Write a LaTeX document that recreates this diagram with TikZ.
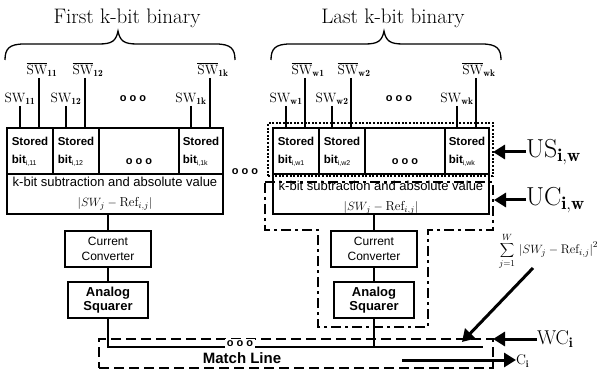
\documentclass[tikz,border=0pt]{standalone}
\usepackage{fontspec}
\setsansfont{Liberation Sans}
\usetikzlibrary{arrows.meta}

\newsavebox\swbox
\newcommand\swbar{\sbox\swbox{SW}\makebox[0pt][l]{\rule[10.6pt]{\wd\swbox}{1.1pt}}\usebox\swbox}

\tikzset{
 every node/.style={inner sep=0pt, outer sep=0pt},
 wire/.style={line width=1.3pt},
 boxln/.style={draw, line width=1.3pt, rectangle},
 cell/.style={boxln, anchor=north west, minimum height=46pt},
 celltxt/.style={font=\sffamily\fontsize{11.5}{18}\selectfont, align=left},
 subtxt/.style={font=\sffamily\fontsize{13}{14}\selectfont},
 fmtxt/.style={font=\fontsize{13}{14}\selectfont},
 ccbox/.style={boxln, minimum width=86pt, minimum height=36pt, align=center, font=\sffamily\fontsize{12}{15}\selectfont},
 sqbox/.style={boxln, minimum width=80pt, minimum height=36pt, align=center, font=\sffamily\bfseries\fontsize{13}{14}\selectfont},
 titletxt/.style={font=\fontsize{21}{21}\selectfont},
 swl/.style={font=\fontsize{13.5}{13.5}\selectfont, inner sep=1pt},
 dotsn/.style={font=\sffamily\bfseries\fontsize{11}{11}\selectfont},
 bracestyle/.style={line width=1.3pt},
 bigarrow/.style={line width=3pt, -{Triangle[length=12pt,width=14pt]}},
 usline/.style={draw, line width=2.6pt, dash pattern=on 2pt off 1.6pt},
 ucline/.style={line width=2.8pt, dash pattern=on 10pt off 4pt on 3pt off 4pt},
 wcline/.style={draw, line width=2.8pt, dash pattern=on 10pt off 5pt},
 biglbl/.style={font=\fontsize{26}{26}\selectfont, anchor=west},
 wclbltxt/.style={font=\fontsize{20}{20}\selectfont, anchor=west},
 cilbltxt/.style={font=\fontsize{14}{14}\selectfont, anchor=west},
 mltxt/.style={font=\sffamily\bfseries\fontsize{15}{15}\selectfont},
 sumtxt/.style={font=\fontsize{12.5}{12.5}\selectfont, anchor=west},
}

% #1 prefix, #2 xshift, #3 title, #4 #5 #6 subscripts, #7 text y offset
\newcommand\kgroup[7]{%
\begin{scope}[xshift=#2pt]
\draw[bracestyle] (5,60) .. controls (5,49) and (9,44) .. (24,44) -- (99,44) .. controls (112,44) and (116,41) .. (118,31) .. controls (120,41) and (124,44) .. (137,44) -- (216,44) .. controls (231,44) and (235,49) .. (235,60);
\node[titletxt] (#1title) at (127,18) {#3};
\node[cell, minimum width=46pt] (#1c1) at (7,128) {};
\node[cell, minimum width=46pt] (#1c2) at (53,128) {};
\node[cell, minimum width=80pt] (#1c3) at (99,128) {};
\node[cell, minimum width=44pt] (#1c4) at (179,128) {};
\node[cell, minimum width=216pt, minimum height=40pt] (#1sub) at (7,174) {};
\node[celltxt] (#1t1) at (30,152) {\textbf{Stored}\\\textbf{bit}\textsubscript{\fontsize{7}{7}\selectfont i,#4}};
\node[celltxt] (#1t2) at (76,152) {\textbf{Stored}\\\textbf{bit}\textsubscript{\fontsize{7}{7}\selectfont i,#5}};
\node[celltxt] (#1t4) at (201,152) {\textbf{Stored}\\\textbf{bit}\textsubscript{\fontsize{7}{7}\selectfont i,#6}};
\node[dotsn] (#1d2) at (139,162) {o o o};
\node[dotsn] (#1d1) at (133,99) {o o o};
\node[subtxt] (#1st) at (115,{182+#7}) {k-bit subtraction and absolute value};
\node[fmtxt] (#1fm) at (115,{204+#7}) {$\left|SW_j-\mathrm{Ref}_{i,j}\right|$};
% switch labels and wires
\node[swl] (#1a1) at (20,99) {SW$_{\mathbf{#4}}$};
\node[swl] (#1a2) at (66,99) {SW$_{\mathbf{#5}}$};
\node[swl] (#1a3) at (191,99) {SW$_{\mathbf{#6}}$};
\node[swl] (#1b1) at (42,70) {\swbar$_{\mathbf{#4}}$};
\node[swl] (#1b2) at (88,70) {\swbar$_{\mathbf{#5}}$};
\node[swl] (#1b3) at (213,70) {\swbar$_{\mathbf{#6}}$};
\coordinate (#1p1) at ([xshift=-3pt]#1b1.south);
\coordinate (#1p2) at ([xshift=-3pt]#1b2.south);
\coordinate (#1p3) at ([xshift=-3pt]#1b3.south);
\draw[wire] (#1a1.south) -- (#1a1.south |- #1c1.north);
\draw[wire] (#1a2.south) -- (#1a2.south |- #1c2.north);
\draw[wire] (#1a3.south) -- (#1a3.south |- #1c4.north);
\draw[wire] (#1p1) -- (#1p1 |- #1c1.north);
\draw[wire] (#1p2) -- (#1p2 |- #1c2.north);
\draw[wire] (#1p3) -- (#1p3 |- #1c4.north);
% converter and squarer
\node[ccbox] (#1cc) at (108,249) {Current\\Converter};
\node[sqbox] (#1sq) at (108,300) {Analog\\Squarer};
\draw[wire] (#1cc.north) -- (#1cc.north |- #1sub.south);
\draw[wire] (#1cc.south) -- (#1sq.north);
\end{scope}}

\begin{document}
\begin{tikzpicture}[x=1pt, y=-1pt]
\useasboundingbox (0,0) rectangle (597,374);
\kgroup{L}{0}{First k-bit binary}{11}{12}{1k}{0}
\kgroup{R}{266}{Last k-bit binary}{w1}{w2}{wk}{4}
\node[dotsn] (middots) at (245,172) {o o o};
% US box
\node[usline, anchor=north west, minimum width=225pt, minimum height=53pt] (usbox) at (268,123) {};
% UC polygon
\draw[ucline] (265,182) -- (493,182) -- (493,230) -- (428,230) -- (428,327) -- (318,327) -- (318,230) -- (265,230) -- cycle;
\coordinate (ucR) at (494,200);
% WC box
\node[wcline, anchor=north west, minimum width=394pt, minimum height=29pt] (wcbox) at (99,339) {};
% match line
\coordinate (mlend) at (483,347);
\draw[wire] (Lsq.south) |- (mlend);
\draw[wire] (Rsq.south) -- (Rsq.south |- mlend);
\node[dotsn, fill=white, inner sep=1.5pt] (mldots) at (240,344) {o o o};
\node[mltxt] (mltext) at (242,358) {Match Line};
% right labels
\node[biglbl] (uslbl) at (526,152) {US$_{\mathbf{i,w}}$};
\node[biglbl] (uclbl) at (526,200) {UC$_{\mathbf{i,w}}$};
\node[wclbltxt] (wclbl) at (537,339) {WC$_{\mathbf{i}}$};
\node[cilbltxt] (cilbl) at (516,361) {C$_{\mathbf{i}}$};
\node[sumtxt] (sumlbl) at (499,251) {$\displaystyle\sum_{j=1}^{W}\,\left|SW_j-\mathrm{Ref}_{i,j}\right|^2$};
\draw[bigarrow] (uslbl.west) -- (uslbl.west -| usbox.east);
\draw[bigarrow] (uclbl.west) -- (uclbl.west -| ucR);
\draw[bigarrow] (wclbl.west) -- (wclbl.west -| wcbox.east);
\coordinate (cistart) at (402,360);
\draw[bigarrow] (cistart) -- (cistart -| cilbl.west);
\coordinate (sumtail) at (533,268);
\coordinate (mlpt) at (462,342);
\draw[bigarrow] (sumtail) -- (mlpt);
\end{tikzpicture}
\end{document}
